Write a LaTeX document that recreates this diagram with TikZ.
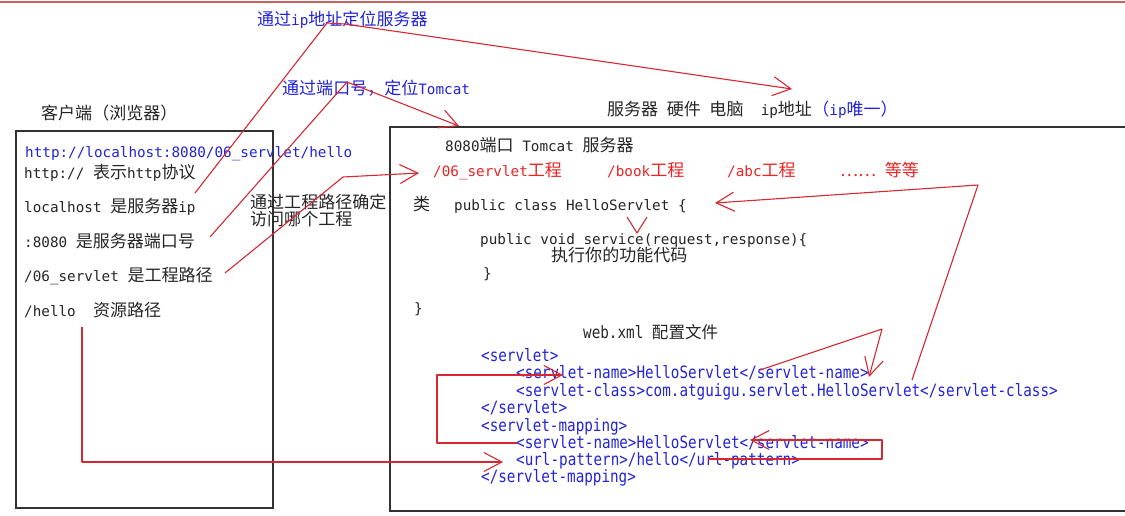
\documentclass[tikz,border=0pt]{standalone}
\usepackage{fontspec}
\usetikzlibrary{arrows.meta}
\setmainfont{DejaVu Sans Mono}
\newfontfamily\zhfont[Scale=1.19]{Noto Sans CJK SC}
\newfontfamily\xmlfont[FakeStretch=0.84]{DejaVu Sans Mono}
\newcommand\zh[1]{{\zhfont #1}}
\definecolor{tblue}{RGB}{35,35,215}
\definecolor{tred}{RGB}{235,35,35}
\definecolor{lred}{RGB}{215,40,50}
\definecolor{boxc}{RGB}{50,50,50}
\definecolor{topc}{RGB}{205,95,95}
\begin{document}
\begin{tikzpicture}[x=1pt,y=-1pt,
  txt/.style={anchor=base west,inner sep=0pt,font=\fontsize{14.3}{17}\selectfont,text=black!85},
  btxt/.style={txt,text=tblue},
  rtxt/.style={txt,text=tred},
  xtxt/.style={anchor=base west,inner sep=0pt,font=\xmlfont\fontsize{17}{20}\selectfont,text=tblue},
  frame/.style={draw=boxc,line width=1.4pt},
  lnk/.style={draw=lred,line width=1.1pt,line join=round},
  arr/.style={lnk,-{Straight Barb[length=18pt,width=19pt]}}
]
\useasboundingbox (0,0) rectangle (1125,515);
\fill[white] (0,0) rectangle (1125,515);
\draw[topc,line width=2pt] (0,1.5) -- (1125,1.5);

% boxes
\draw[frame] (16,131) rectangle (273,508);
\draw[frame] (1130,127) -- (390,127) -- (390,511) -- (1130,511);

% top texts
\node[btxt] (t1) at (257,25) {\zh{通过}ip\zh{地址定位服务器}};
\node[btxt] (t2) at (282,94) {\zh{通过端口号，定位}Tomcat};
\node[txt] (client) at (41,119) {\zh{客户端（浏览器）}};
\node[txt] (srv) at (607,115) {\zh{服务器}~\zh{硬件}~\zh{电脑}~~ip\zh{地址}~};
\node[btxt,anchor=base west] (ipu) at (srv.base east) {\zh{（}ip\zh{唯一）}};

% left box
\node[btxt] (url) at (25,157) {http://localhost:8080/06\_servlet/hello};
\node[txt] (l1) at (24,178) {http://~\zh{表示}http\zh{协议}};
\node[txt] (l2) at (24,212) {localhost~\zh{是服务器}ip};
\node[txt] (l3) at (24,247) {:8080~\zh{是服务器端口号}};
\node[txt] (l4) at (24,281) {/06\_servlet~\zh{是工程路径}};
\node[txt] (l5) at (24,316) {/hello~~\zh{资源路径}};

% middle
\node[txt] (m1) at (250,208) {\zh{通过工程路径确定}};
\node[txt] (m2) at (250,225) {\zh{访问哪个工程}};

% right box
\node[txt] (tc) at (445,151) {8080\zh{端口}~Tomcat~\zh{服务器}};
\node[rtxt] (p1) at (433,176) {/06\_servlet\zh{工程}};
\node[rtxt] (p2) at (607,176) {/book\zh{工程}};
\node[rtxt] (p3) at (727,176) {/abc\zh{工程}};
\node[rtxt] (p4) at (840,176) {\zh{……}~\zh{等等}};
\node[txt] (lei) at (413,210) {\zh{类}};
\node[txt] (cls) at (454,210) {public class HelloServlet \{};
\node[txt] (svc) at (480,244) {public void service(request,response)\{};
\node[txt] (code) at (551,261) {\zh{执行你的功能代码}};
\node[txt] (b1) at (483,278) {\}};
\node[txt] (b2) at (414,313) {\}};

% web.xml
\node[xtxt,text=black!85] (wx) at (583,338) {web.xml {\zhfont\fontsize{13.9}{16}\selectfont 配置文件}};
\node[xtxt] (x1) at (481,361) {<servlet>};
\node[xtxt] (x2) at (516,378) {<servlet-name>HelloServlet</servlet-name>};
\node[xtxt] (x3) at (516,396) {<servlet-class>com.atguigu.servlet.HelloServlet</servlet-class>};
\node[xtxt] (x4) at (481,413) {</servlet>};
\node[xtxt] (x5) at (481,431) {<servlet-mapping>};
\node[xtxt] (x6) at (516,448) {<servlet-name>HelloServlet</servlet-name>};
\node[xtxt] (x7) at (516,465) {<url-pattern>/hello</url-pattern>};
\node[xtxt] (x8) at (481,482) {</servlet-mapping>};

% connector coordinates
\coordinate (a0) at (195,193);
\coordinate (a1) at (327,23);
\coordinate (a2) at (345,24);
\coordinate (a3) at (792,89);
\coordinate (b0) at (210,237);
\coordinate (b1) at (347,82);
\coordinate (b2) at (459,126);
\coordinate (c0) at (225,273);
\coordinate (c1) at (343,177);
\coordinate (c2) at (419,173);
\coordinate (d0) at (912,380);
\coordinate (d1) at (978,185);
\coordinate (d2) at (715,203);
\coordinate (v0) at (627,217);
\coordinate (v1) at (637,233);
\coordinate (v2) at (647,217);
\coordinate (e0) at (760,370);
\coordinate (e1) at (882,329);
\coordinate (e2) at (869,377);
\coordinate (f0) at (517,443);
\coordinate (f1) at (437,443);
\coordinate (f2) at (437,375);
\coordinate (f3) at (563,375);
\coordinate (g0) at (708,459);
\coordinate (g1) at (882,459);
\coordinate (g2) at (882,440);
\coordinate (g3) at (750,440);
\coordinate (h0) at (82,327);
\coordinate (h1) at (82,462);
\coordinate (h2) at (503,462);

% connectors
\draw[arr] (a0) -- (a1) -- (a2) -- (a3);
\draw[arr] (b0) -- (b1) -- (b2);
\draw[arr] (c0) -- (c1) -- (c2);
\draw[arr] (d0) -- (d1) -- (d2);
\draw[lnk] (v0) -- (v1) -- (v2);
\draw[arr] (e0) -- (e1) -- (e2);
\draw[arr] (f0) -- (f1) -- (f2) -- (f3);
\draw[arr] (g0) -- (g1) -- (g2) -- (g3);
\draw[arr] (h0) -- (h1) -- (h2);
\end{tikzpicture}
\end{document}
